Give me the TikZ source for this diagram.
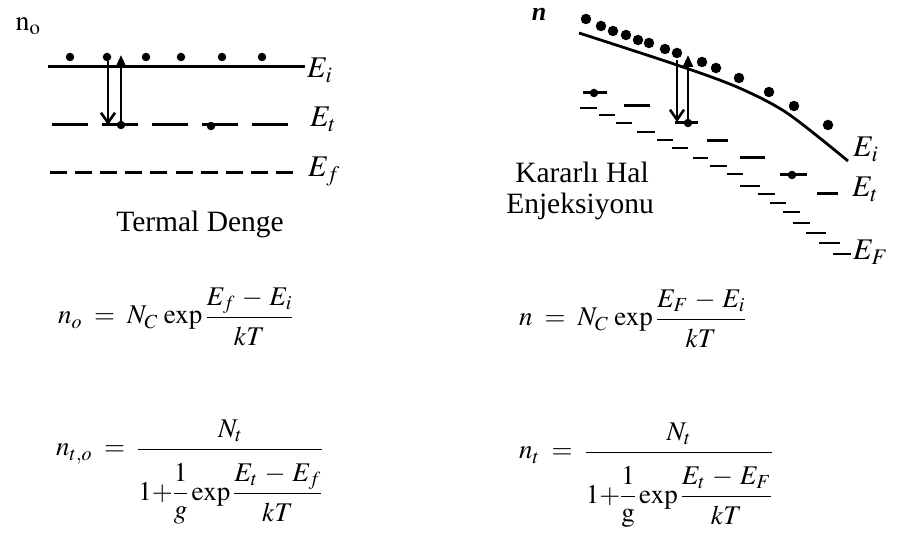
\documentclass[tikz,border=0pt]{standalone}
\usepackage{amsmath}
\usepackage{mathptmx}
\usepackage[no-math]{fontspec}
\setmainfont{Liberation Serif}
\usetikzlibrary{arrows.meta,positioning}
\newcommand{\efrac}[2]{\dfrac{#1\rule[-8pt]{0pt}{8pt}}{\rule{0pt}{24pt}#2}}

\begin{document}
\begin{tikzpicture}[x=1pt,y=-1pt,>=Latex,
  lvl/.style={line width=3pt},
  elec/.style={circle,fill,inner sep=0pt,minimum size=8.5pt},
  lbl/.style={anchor=base west,inner sep=0pt,font=\fontsize{30}{32}\selectfont},
  txt/.style={anchor=base,inner sep=0pt,font=\fontsize{29.5}{32}\selectfont},
  eqn/.style={anchor=base west,inner sep=0pt,font=\fontsize{27}{30}\selectfont},
  dn/.style={line width=2.6pt,-{Straight Barb[length=10pt,width=14pt,line width=2.6pt]}},
  up/.style={line width=2.6pt,-{Triangle[length=12pt,width=10pt]}}]
\useasboundingbox (0,0) rectangle (906,537);
\node[inner sep=0pt,font=\fontsize{28}{30}\selectfont] (no) at (28,26) {$\mathrm{n_o}$};
\draw[lvl] (48,67) -- (305,67);
\draw[lvl,dash pattern=on 36pt off 14pt] (52,125) -- (290,125);
\draw[lvl,dash pattern=on 17pt off 8.1pt] (50,173) -- (293,173);
\foreach \x [count=\k] in {70,107,146,181,222,262}
  \node[elec] (e\k) at (\x,57) {};
\coordinate (dt) at (108,61); \coordinate (db) at (108,125);
\coordinate (ub) at (121,125); \coordinate (ut) at (121,55);
\draw[dn] (dt) -- (db); \draw[up] (ub) -- (ut);
\node[elec] (t1) at (ub) {}; \node[elec] (t2) at (211,126) {};
\node[lbl] (ei) at (307,78) {$E_i$};
\node[lbl] (et) at (310,127) {$E_t$};
\node[lbl] (ef) at (308,177) {$E_f$};
\node[txt] (td) at (200,232) {Termal Denge};
\node[inner sep=0pt,font=\fontsize{26}{30}\selectfont\bfseries\itshape] (n) at (539,14) {n};
\draw[lvl,line width=2.8pt] plot[smooth] coordinates {(579,33) (677,65) (737,87) (787,113) (848,161)};
\foreach \x/\y [count=\k] in {586/19,601/26,613/31,626/35,638/40,649/43,665/49,677/53,702/62,716/68,739/78,769/92,794/106,828/125}
  \node[elec,minimum size=10.5pt] (s\k) at (\x,\y) {};
\foreach \a/\b/\y in {583/607/93,624/650/106,675/698/123,707/728/141,740/765/158,780/807/175,817/838/194}
  \draw[lvl] (\a,\y) -- (\b,\y);
\foreach \a/\b/\y in {580/597/108,599/615/115,616/632/123,637/655/132,657/673/140,672/688/148,693/708/158,710/727/166,727/743/174,740/760/186,758/775/194,770/786/203,783/800/212,793/810/223,806/826/233,819/840/243,833/851/254}
  \draw[lvl,line width=2.8pt] (\a,\y) -- (\b,\y);
\coordinate (dt2) at (677,60); \coordinate (db2) at (677,122);
\coordinate (ub2) at (688,123); \coordinate (ut2) at (688,55);
\draw[dn] (dt2) -- (db2); \draw[up] (ub2) -- (ut2);
\node[elec] (u1) at (ub2) {}; \node[elec] (u2) at (594,93) {}; \node[elec] (u3) at (792,175) {};
\node[lbl] (ri) at (853,157) {$E_i$};
\node[lbl] (rt) at (852,197) {$E_t$};
\node[lbl] (rf) at (853,260) {$E_F$};
\node[txt] (kh) at (582,183) {Kararlı Hal};
\node[txt] (en) at (580,214) {Enjeksiyonu};
\node[eqn] (f1) at (58,324) {$n_o\;=\;N_C\,\exp\efrac{E_f\,-\,E_i}{kT}$};
\node[eqn] (f2) at (56,456) {$n_{t,o}\;=\;\dfrac{N_t}{\rule{0pt}{47pt}1{+}\dfrac{1}{g}\exp\efrac{E_t\,-\,E_f}{kT}}$};
\node[eqn] (f3) at (519,326) {$n\;=\;N_C\,\exp\efrac{E_F\,-\,E_i}{kT}$};
\node[eqn] (f4) at (519,459) {$n_t\;=\;\dfrac{N_t}{\rule{0pt}{47pt}1{+}\dfrac{1}{\mathrm{g}}\exp\efrac{E_t\,-\,E_F}{kT}}$};
\end{tikzpicture}
\end{document}
